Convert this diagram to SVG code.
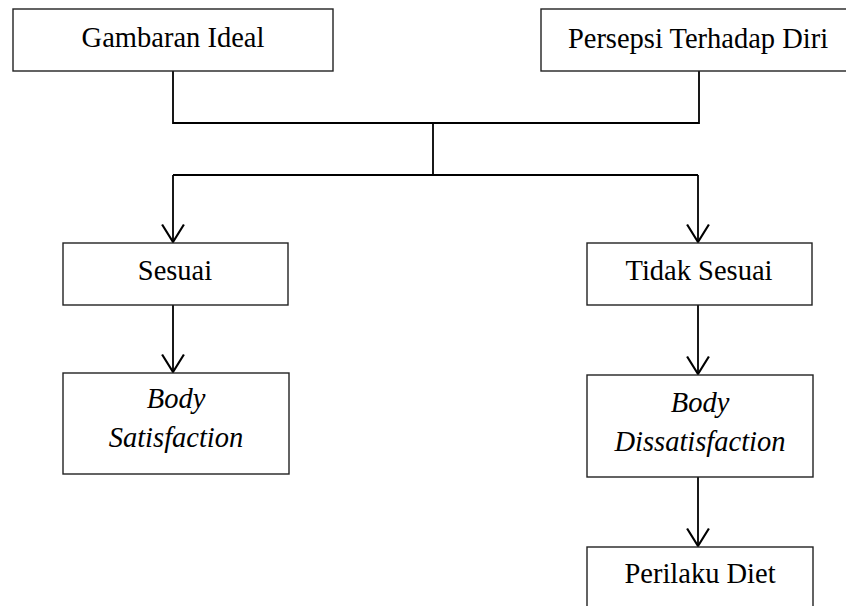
<svg xmlns="http://www.w3.org/2000/svg" width="846" height="606" viewBox="0 0 846 606">
<defs>
<style>
.box{fill:#fff;stroke:#222;stroke-width:1.4}
.t{font-family:"Liberation Serif","Times New Roman",serif;font-size:28.5px;fill:#000;text-anchor:middle}
.i{font-style:italic}
.c{fill:none;stroke:#000;stroke-width:1.8}
</style>
<marker id="arr" markerUnits="userSpaceOnUse" markerWidth="24" markerHeight="24" viewBox="-17 -11 19 22" refX="0" refY="0" orient="auto">
<path d="M-16,-10 L0,0 L-16,10" fill="none" stroke="#000" stroke-width="2"/>
</marker>
</defs>
<rect width="846" height="606" fill="#fff"/>
<g id="connectors">
<polyline class="c" points="173,71 173,123 699,123 699,71"/>
<line class="c" x1="433" y1="123" x2="433" y2="175"/>
<line class="c" x1="173" y1="175" x2="698" y2="175"/>
<line class="c" x1="173" y1="175" x2="173" y2="242" marker-end="url(#arr)"/>
<line class="c" x1="698" y1="175" x2="698" y2="242" marker-end="url(#arr)"/>
<line class="c" x1="173" y1="305" x2="173" y2="372" marker-end="url(#arr)"/>
<line class="c" x1="698" y1="305" x2="698" y2="374" marker-end="url(#arr)"/>
<line class="c" x1="698" y1="477" x2="698" y2="546" marker-end="url(#arr)"/>
</g>
<g id="gambaran">
<rect class="box" x="13" y="9" width="320" height="62"/>
<text class="t" x="173" y="47">Gambaran Ideal</text>
</g>
<g id="persepsi">
<rect class="box" x="541" y="9" width="320" height="62"/>
<text class="t" x="698" y="48">Persepsi Terhadap Diri</text>
</g>
<g id="sesuai">
<rect class="box" x="63" y="243" width="225" height="62"/>
<text class="t" x="175" y="280">Sesuai</text>
</g>
<g id="tidak-sesuai">
<rect class="box" x="587" y="243" width="225" height="62"/>
<text class="t" x="699" y="280">Tidak Sesuai</text>
</g>
<g id="body-satisfaction">
<rect class="box" x="63" y="373" width="226" height="101"/>
<text class="t i" x="176" y="408">Body</text>
<text class="t i" x="176" y="447">Satisfaction</text>
</g>
<g id="body-dissatisfaction">
<rect class="box" x="587" y="375" width="226" height="102"/>
<text class="t i" x="700" y="412">Body</text>
<text class="t i" x="700" y="451">Dissatisfaction</text>
</g>
<g id="perilaku-diet">
<rect class="box" x="587" y="547" width="226" height="70"/>
<text class="t" x="700" y="583">Perilaku Diet</text>
</g>
</svg>
